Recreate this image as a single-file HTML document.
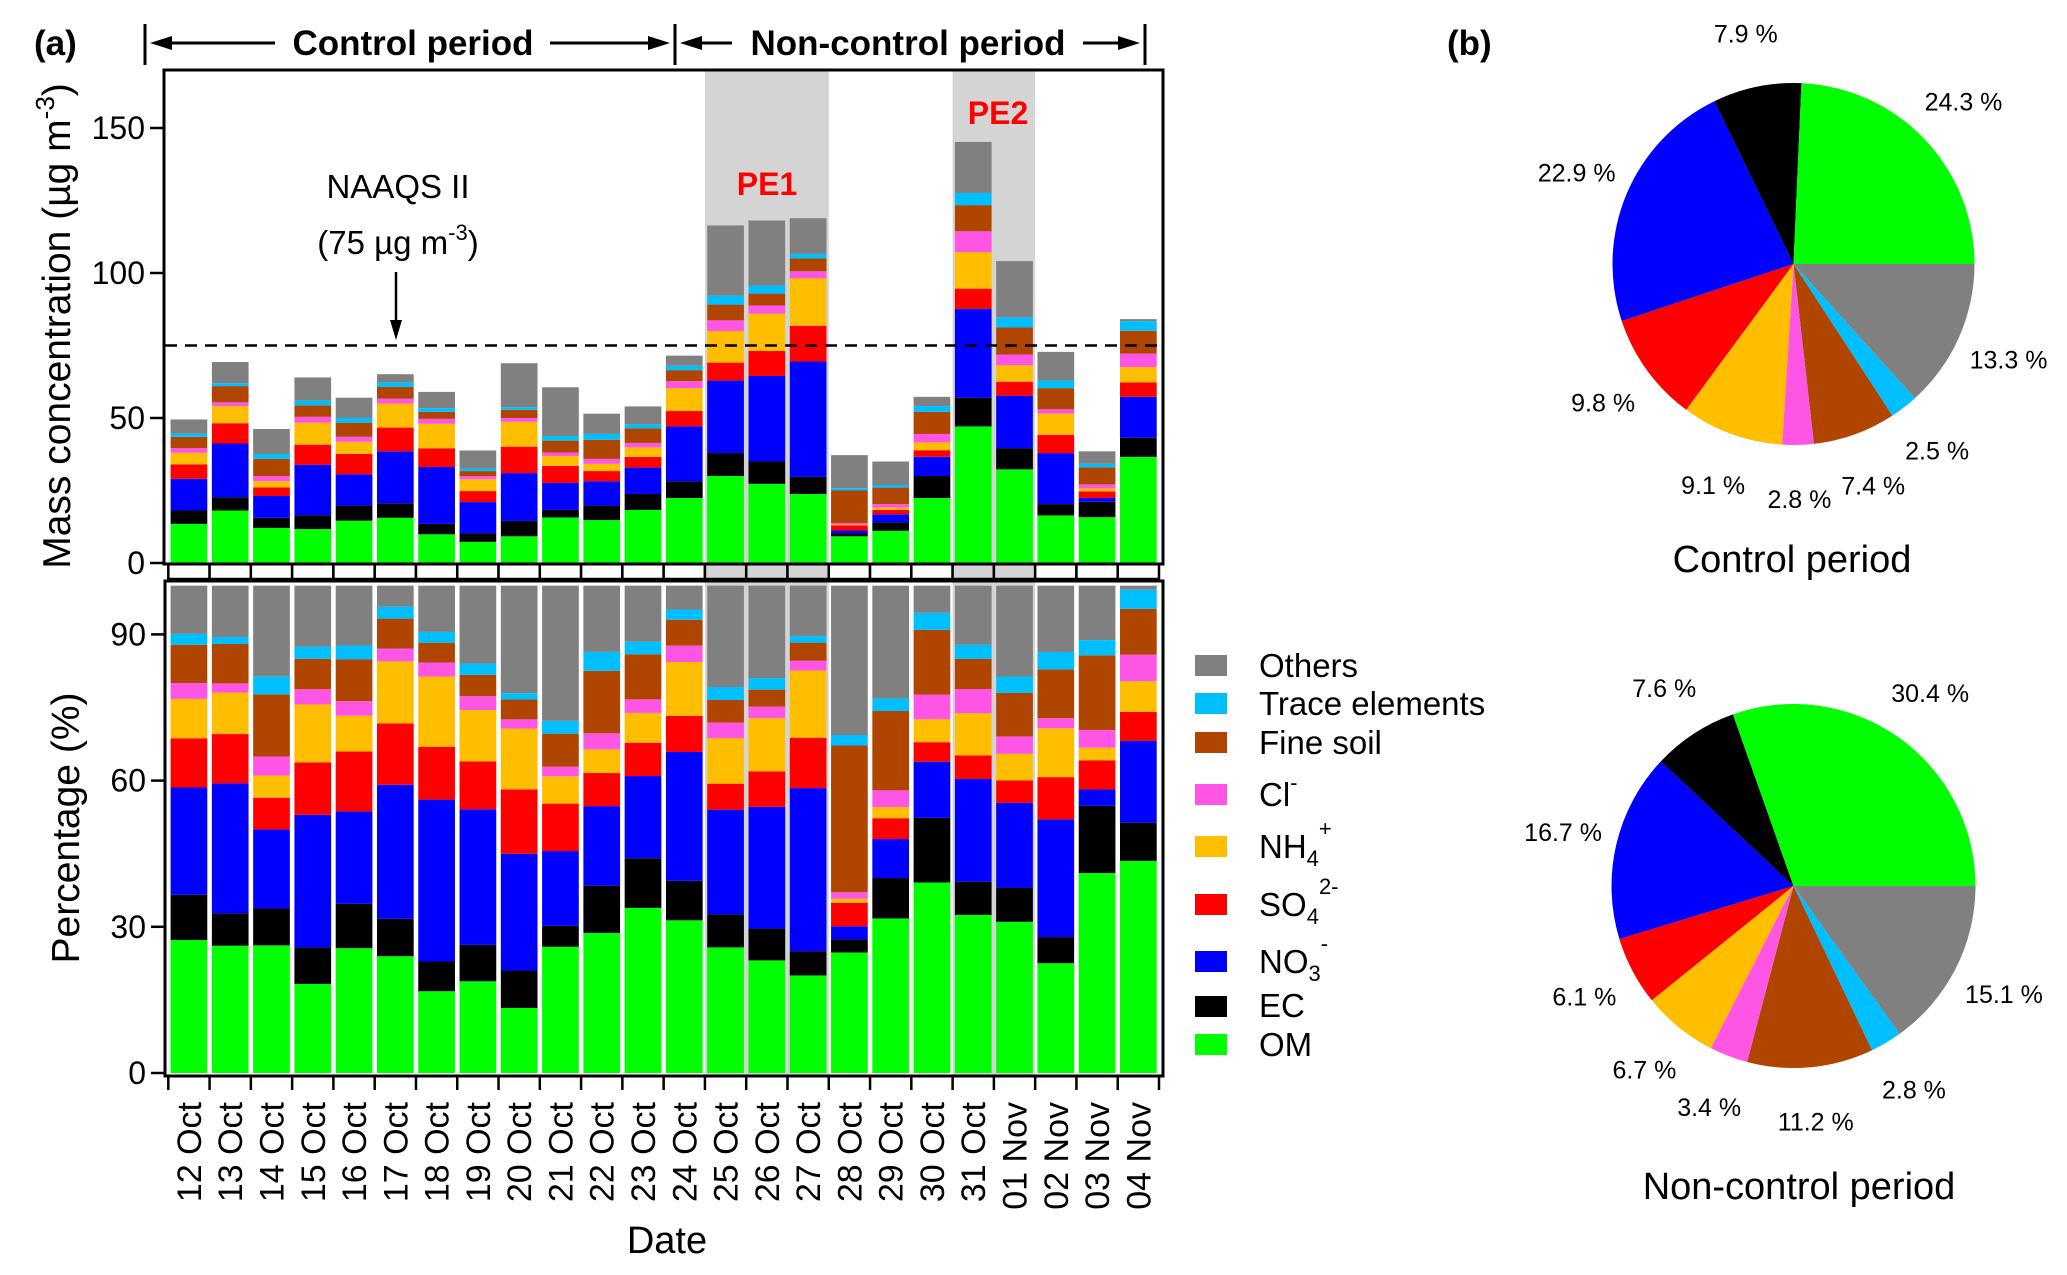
<!DOCTYPE html>
<html><head><meta charset="utf-8"><style>
html,body{margin:0;padding:0;background:#fff}
svg{display:block;font-family:"Liberation Sans",Arial,sans-serif}
</style></head><body>
<svg id="fig" xmlns="http://www.w3.org/2000/svg" width="2067" height="1275" viewBox="0 0 2067 1275">
<g id="shadeTop"></g>
<g id="barsTop"></g>
<g id="barsBot"></g>
<g id="axes"></g>
<g id="pies"></g>

<text x="34" y="55" font-size="35" font-weight="bold">(a)</text>
<text x="1447" y="55" font-size="35" font-weight="bold">(b)</text>

<g stroke="#000" stroke-width="3">
  <line x1="145" y1="24" x2="145" y2="65"/><line x1="675" y1="24" x2="675" y2="65"/><line x1="1145" y1="24" x2="1145" y2="65"/>
  <line x1="170" y1="43" x2="275" y2="43"/><line x1="550" y1="43" x2="650" y2="43"/>
  <line x1="700" y1="43" x2="732" y2="43"/><line x1="1083" y1="43" x2="1120" y2="43"/>
  <polygon points="150,43 172,36 172,50" fill="#000" stroke="none"/>
  <polygon points="670,43 648,36 648,50" fill="#000" stroke="none"/>
  <polygon points="680,43 702,36 702,50" fill="#000" stroke="none"/>
  <polygon points="1140,43 1118,36 1118,50" fill="#000" stroke="none"/>
</g>
<text x="413" y="55" font-size="35" font-weight="bold" text-anchor="middle">Control period</text>
<text x="908" y="55" font-size="35" font-weight="bold" text-anchor="middle">Non-control period</text>

<text x="398" y="198" font-size="33" text-anchor="middle">NAAQS II</text>
<text x="398" y="254" font-size="33" text-anchor="middle">(75 µg m<tspan dy="-14" font-size="22">-3</tspan><tspan dy="14">)</tspan></text>
<g><line x1="396" y1="272" x2="396" y2="325" stroke="#000" stroke-width="2.5"/><polygon points="396,340 390,320 402,320" fill="#000"/></g>
<text x="767" y="195" font-size="32" font-weight="bold" fill="#ff0000" text-anchor="middle">PE1</text>
<text x="998" y="124" font-size="32" font-weight="bold" fill="#ff0000" text-anchor="middle">PE2</text>

<text transform="translate(70,326) rotate(-90)" font-size="39" text-anchor="middle">Mass concentration (µg m<tspan dy="-16" font-size="26">-3</tspan><tspan dy="16">)</tspan></text>
<text transform="translate(79,828) rotate(-90)" font-size="39" text-anchor="middle">Percentage (%)</text>
<text x="667" y="1253" font-size="38" text-anchor="middle">Date</text>

<g font-size="33">
  <rect x="1195" y="655" width="32" height="21" fill="#808080"/>
  <text x="1259" y="677">Others</text>
  <rect x="1195" y="693" width="32" height="21" fill="#00bfff"/>
  <text x="1259" y="715">Trace elements</text>
  <rect x="1195" y="732" width="32" height="21" fill="#b04500"/>
  <text x="1259" y="754">Fine soil</text>
  <rect x="1195" y="784" width="32" height="21" fill="#ff55e5"/>
  <text x="1259" y="806">Cl<tspan dy="-16" font-size="22">-</tspan></text>
  <rect x="1195" y="836" width="32" height="21" fill="#ffbf00"/>
  <text x="1259" y="858">NH<tspan dy="8" font-size="22">4</tspan><tspan dy="-30" font-size="22">+</tspan></text>
  <rect x="1195" y="894" width="32" height="21" fill="#ff0000"/>
  <text x="1259" y="916">SO<tspan dy="8" font-size="22">4</tspan><tspan dy="-30" font-size="22">2-</tspan></text>
  <rect x="1195" y="951" width="32" height="21" fill="#0000ff"/>
  <text x="1259" y="973">NO<tspan dy="8" font-size="22">3</tspan><tspan dy="-30" font-size="22">-</tspan></text>
  <rect x="1195" y="996" width="32" height="21" fill="#000000"/>
  <text x="1259" y="1017">EC</text>
  <rect x="1195" y="1034" width="32" height="21" fill="#00ff00"/>
  <text x="1259" y="1056">OM</text>
</g>

<text x="1792" y="572" font-size="38" text-anchor="middle">Control period</text>
<text x="1799" y="1199" font-size="38" text-anchor="middle">Non-control period</text>
</svg>
<script>
const dates = ["12 Oct","13 Oct","14 Oct","15 Oct","16 Oct","17 Oct","18 Oct","19 Oct","20 Oct","21 Oct","22 Oct","23 Oct","24 Oct","25 Oct","26 Oct","27 Oct","28 Oct","29 Oct","30 Oct","31 Oct","01 Nov","02 Nov","03 Nov","04 Nov"];
const seriesNames = ["OM","EC","NO3","SO4","NH4","Cl","Fine soil","Trace elements","Others"];
const seriesColors = ["#00ff00","#000000","#0000ff","#ff0000","#ffbf00","#ff55e5","#b04500","#00bfff","#808080"];
const om     = [13.5,18.1,12.1,11.7,14.6,15.6,9.9,7.3,9.2,15.7,14.8,18.3,22.4,30.0,27.3,23.8,9.2,11.1,22.4,47.1,32.3,16.4,15.8,36.6];
const ec     = [4.6,4.6,3.5,4.8,5.2,5.0,3.6,2.9,5.3,2.6,5.0,5.5,5.8,7.9,7.7,5.9,1.0,2.9,7.6,9.9,7.3,3.9,5.3,6.6];
const no3    = [10.9,18.5,7.5,17.4,10.8,17.9,19.6,10.8,16.5,9.3,8.4,9.1,18.9,25.0,29.5,39.8,1.0,2.8,6.6,30.6,18.1,17.6,1.3,14.1];
const so4    = [5.0,7.0,3.0,6.9,7.0,8.2,6.4,3.8,9.1,5.9,3.5,3.7,5.3,6.2,8.6,12.3,1.8,1.5,2.3,7.0,4.8,6.3,2.3,5.0];
const nh4    = [4.0,5.9,2.1,7.6,4.2,8.3,8.5,4.1,8.6,3.4,2.5,3.3,7.9,10.9,12.9,16.4,0.3,0.8,2.7,12.6,5.7,7.3,1.0,5.3];
const cl     = [1.6,1.3,1.8,2.0,1.7,1.7,1.7,1.1,1.3,1.2,1.7,1.5,2.4,3.7,2.8,2.4,0.5,1.2,2.9,7.2,3.7,1.5,1.4,4.6];
const soil   = [3.9,5.6,5.9,4.0,4.9,4.0,2.4,1.7,2.8,4.1,6.6,5.0,3.8,5.4,4.1,4.4,11.2,5.7,7.6,9.0,9.3,7.3,5.9,7.9];
const trace  = [1.1,1.0,1.7,1.6,1.6,1.6,1.3,0.9,0.9,1.6,2.0,1.4,1.5,3.1,2.8,1.6,0.8,0.9,2.0,4.2,3.5,2.6,1.2,3.3];
const others = [4.9,7.3,8.6,8.0,7.0,2.8,5.6,6.2,15.2,16.8,7.0,6.2,3.5,24.2,22.4,12.3,11.4,8.1,3.2,17.6,19.4,9.9,4.3,0.7];
const massTicks = [0,50,100,150];
const pctTicks = [0,30,60,90];
const naaqsLimit = 75;
const episodes = [[13,15],[19,20]];
const pieControl = [24.3,7.9,22.9,9.8,9.1,2.8,7.4,2.5,13.3];
const pieNonControl = [30.4,7.6,16.7,6.1,6.7,3.4,11.2,2.8,15.1];

const NS="http://www.w3.org/2000/svg";
function mk(tag,attrs,parent){const e=document.createElementNS(NS,tag);for(const k in attrs)e.setAttribute(k,attrs[k]);parent.appendChild(e);return e;}
const series=[om,ec,no3,so4,nh4,cl,soil,trace,others];
const X0=168.3, BAND=(1159-168.3)/24, BW=36.7;
const xBand=i=>X0+i*BAND;
const yMass=v=>563-v*2.9;
const yPct=p=>1073-p*(146.2/30);
const gShade=document.getElementById('shadeTop');
const gTop=document.getElementById('barsTop');
const gBot=document.getElementById('barsBot');
const gAx=document.getElementById('axes');

// shading
episodes.forEach(ep=>{
  let r=mk('rect',{x:xBand(ep[0]),y:70,width:BAND*(ep[1]-ep[0]+1),height:1006,fill:'#d4d4d4'},gShade);
  
  
});
// strip between panels
for(let i=0;i<24;i++){
  const inEp=episodes.some(ep=>i>=ep[0]&&i<=ep[1]);
  let r=mk('rect',{x:xBand(i),y:564,width:BAND,height:15,fill:inEp?'#d4d4d4':'#fff',stroke:'#000','stroke-width':2.5},gAx);
  
  
}
// bars
for(let i=0;i<24;i++){
  const bx=xBand(i)+(BAND-BW)/2;
  let total=0; series.forEach(s=>total+=s[i]);
  let cum=0, cp=0;
  series.forEach((s,k)=>{
    const v=s[i];
    let r=mk('rect',{x:bx,y:yMass(cum+v),width:BW,height:yMass(cum)-yMass(cum+v),fill:seriesColors[k]},gTop);
    
    
    cum+=v;
    const p=v/total*100;
    let r2=mk('rect',{x:bx,y:yPct(cp+p),width:BW,height:yPct(cp)-yPct(cp+p),fill:seriesColors[k]},gBot);
    
    
    cp+=p;
  });
  let t=mk('text',{transform:`translate(${xBand(i)+BAND/2+12},1102) rotate(-90)`,'font-size':34,'text-anchor':'end'},gAx);
  t.textContent=dates[i];
  
  
}
// NAAQS line
let nl=mk('line',{x1:165,x2:1162,y1:yMass(naaqsLimit),y2:yMass(naaqsLimit),stroke:'#000','stroke-width':2.5,'stroke-dasharray':'12,8'},gAx);


// frames
let f1=mk('rect',{x:164,y:70,width:999,height:494,fill:'none',stroke:'#000','stroke-width':3},gAx);


let f2=mk('rect',{x:165,y:581,width:998,height:495,fill:'none',stroke:'#000','stroke-width':3},gAx);


// y ticks
massTicks.forEach(v=>{
  let l=mk('line',{x1:150,x2:164,y1:yMass(v),y2:yMass(v),stroke:'#000','stroke-width':2.5},gAx);
  
  
  let t=mk('text',{x:145,y:yMass(v)+11,'font-size':32,'text-anchor':'end'},gAx);
  t.textContent=v;
  
  
});
pctTicks.forEach(v=>{
  let l=mk('line',{x1:151,x2:165,y1:yPct(v),y2:yPct(v),stroke:'#000','stroke-width':2.5},gAx);
  
  
  let t=mk('text',{x:146,y:yPct(v)+11,'font-size':32,'text-anchor':'end'},gAx);
  t.textContent=v;
  
  
});
for(let i=0;i<=24;i++){
  let l=mk('line',{x1:xBand(i),x2:xBand(i),y1:1076,y2:1090,stroke:'#000','stroke-width':2.5},gAx);
  
  
}
// pies
const pieColors=["#00ff00","#000000","#0000ff","#ff0000","#ffbf00","#ff55e5","#b04500","#00bfff","#808080"];
function drawPie(vals,cx,cy,R,name){
  const g=document.getElementById('pies');
  // clockwise order from east: others, trace, soil, cl, nh4, so4, no3, ec, om
  const order=[8,7,6,5,4,3,2,1,0];
  let tot=0; vals.forEach(v=>tot+=v);
  let a=0;
  order.forEach(k=>{
    const sweep=vals[k]/tot*2*Math.PI;
    const a2=a+sweep;
    const x1=cx+R*Math.cos(a),y1=cy+R*Math.sin(a),x2=cx+R*Math.cos(a2),y2=cy+R*Math.sin(a2);
    let p=mk('path',{d:`M${cx},${cy}L${x1},${y1}A${R},${R} 0 ${sweep>Math.PI?1:0} 1 ${x2},${y2}Z`,fill:pieColors[k]},g);
    
    
    const m=(a+a2)/2, d=R*1.3;
    let t=mk('text',{x:cx+d*Math.cos(m),y:cy+d*Math.sin(m)+9,'font-size':25,'text-anchor':'middle'},g);
    t.textContent=vals[k].toFixed(1)+' %';
    
    
    a=a2;
  });
}
drawPie(pieControl,1793.5,264,181,'pie-control');
drawPie(pieNonControl,1793.5,886,182,'pie-non-control');
</script>
</body></html>
